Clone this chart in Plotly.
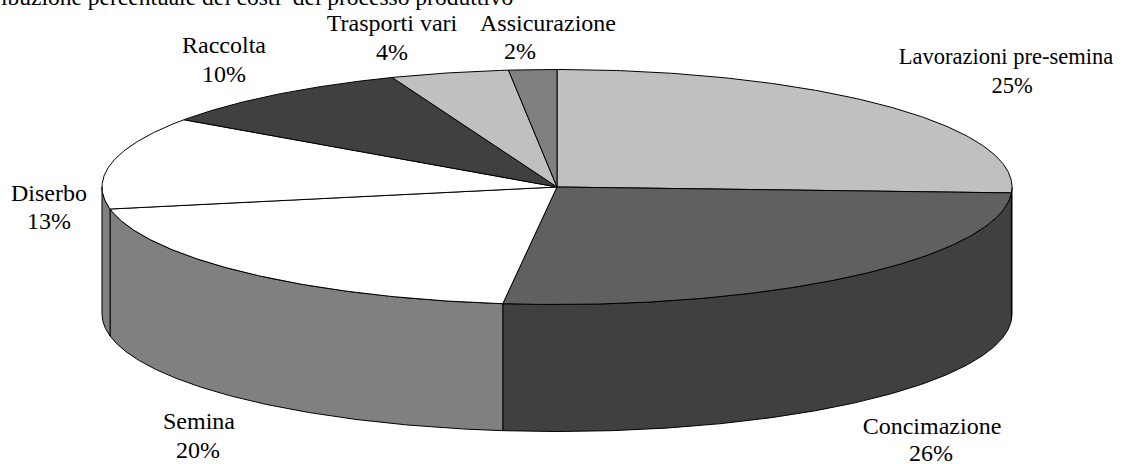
import math
import plotly.graph_objects as go

# Data
categories = ["Lavorazioni pre-semina", "Concimazione", "Semina", "Diserbo",
              "Raccolta", "Trasporti vari", "Assicurazione"]
shares = [25.8, 26.1, 20.1, 12.7, 9.4, 4.2, 1.7]
percent_labels = ["25%", "26%", "20%", "13%", "10%", "4%", "2%"]
title_text = "ibuzione percentuale dei costi\u00a0\u00a0del processo produttivo"

# Styles
top_colors = ["#c0c0c0", "#606060", "#ffffff", "#ffffff", "#404040", "#c0c0c0", "#808080"]
side_colors = ["#404040", "#404040", "#808080", "#808080", "#404040", "#c0c0c0", "#808080"]

# Layout of the tilted disc, in page pixels
CX, CY, RX, RY, DEPTH = 557, 187, 455, 117.5, 127
label_x = [1006, 932, 199, 49, 224, 392, 548]
pct_x = [1012, 931, 198, 49, 224, 392, 520]
label_name_y = [58, 428, 423, 195, 47, 25, 25]
label_pct_y = [87, 455, 452, 223, 76, 54, 53]
label_sizes = [22.5, 24, 24, 24, 24, 24, 24]
FONT = "Liberation Serif"


def arc(a0, a1, dy=0.0):
    n = max(2, int(abs(a1 - a0) * 2) + 1)
    ang = [a0 + (a1 - a0) * i / (n - 1) for i in range(n)]
    xs = [CX + RX * math.sin(math.radians(a)) for a in ang]
    ys = [CY - RY * math.cos(math.radians(a)) + dy for a in ang]
    return xs, ys


total = sum(shares)
bounds = [0.0]
for s in shares:
    bounds.append(bounds[-1] + 360.0 * s / total)

fig = go.Figure()
line = dict(color="#000000", width=1)

# Visible walls of the disc
for i in range(len(shares)):
    a0, a1 = max(bounds[i], 90), min(bounds[i + 1], 270)
    if a1 <= a0:
        continue
    x1, y1 = arc(a0, a1)
    x2, y2 = arc(a1, a0, DEPTH)
    fig.add_trace(go.Scatter(x=x1 + x2 + [x1[0]], y=y1 + y2 + [y1[0]], mode="lines",
                             fill="toself", fillcolor=side_colors[i], line=line,
                             hoverinfo="skip", showlegend=False))

# Top faces
for i in range(len(shares)):
    x1, y1 = arc(bounds[i], bounds[i + 1])
    fig.add_trace(go.Scatter(x=[CX] + x1 + [CX], y=[CY] + y1 + [CY], mode="lines",
                             fill="toself", fillcolor=top_colors[i], line=line,
                             hoverinfo="skip", showlegend=False))

txt = dict(family=FONT, size=label_sizes, color="#000000")
fig.add_trace(go.Scatter(x=label_x, y=label_name_y, mode="text", text=categories,
                         textposition="middle center", textfont=txt,
                         hoverinfo="skip", showlegend=False))
fig.add_trace(go.Scatter(x=pct_x, y=label_pct_y, mode="text", text=percent_labels,
                         textposition="middle center", textfont=txt,
                         hoverinfo="skip", showlegend=False))

fig.add_annotation(x=515, y=12, xref="x", yref="y", xanchor="right", yanchor="bottom",
                   text=title_text, showarrow=False,
                   font=dict(family=FONT, size=23.5, color="#000000"))

fig.update_xaxes(range=[0, 1128], visible=False, fixedrange=True)
fig.update_yaxes(range=[464, 0], visible=False, fixedrange=True)
fig.update_layout(width=1128, height=464, margin=dict(l=0, r=0, t=0, b=0),
                  paper_bgcolor="#ffffff", plot_bgcolor="#ffffff", showlegend=False)
fig.write_html("out.html", config={"displayModeBar": False},
               post_script="document.body.style.margin='0';document.body.style.overflow='hidden';")
